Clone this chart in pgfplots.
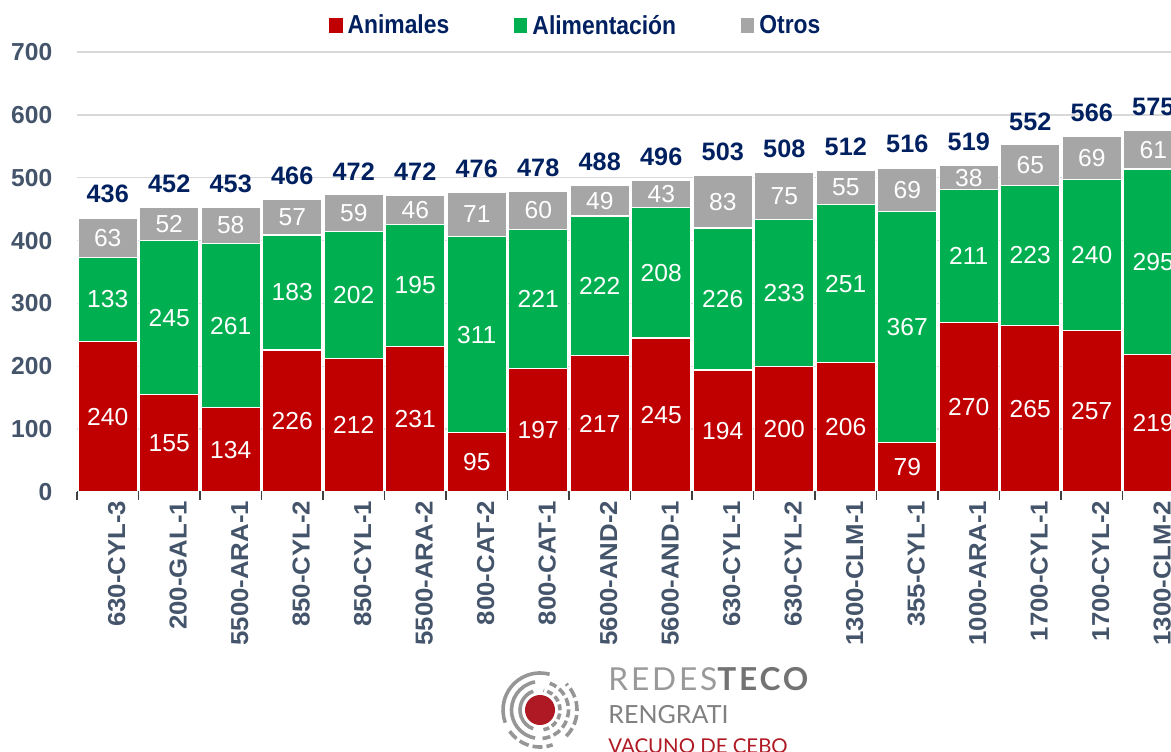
\documentclass[border=0pt]{standalone}
\usepackage{pgfplots}
\usepackage{pgfplotstable}
\usepackage{graphicx}
\pgfplotsset{compat=1.18}
\usepackage{fontspec}
\setmainfont{Liberation Sans}
\newfontfamily\lato{Lato}
\newfontfamily\latowide[LetterSpace=9]{Lato}
\definecolor{cAnim}{RGB}{192,0,0}
\definecolor{cAlim}{RGB}{0,176,80}
\definecolor{cOtros}{RGB}{166,166,166}
\definecolor{navy}{RGB}{0,32,96}
\definecolor{tickcol}{RGB}{68,84,106}
\definecolor{gridgray}{RGB}{217,217,217}
\definecolor{axiscol}{RGB}{64,64,64}
\definecolor{logogray}{RGB}{150,150,150}
\definecolor{logored}{RGB}{175,25,35}

\pgfplotstableread{
x a b c t
0 240 133 63 436
1 155 245 52 452
2 134 261 58 453
3 226 183 57 466
4 212 202 59 472
5 231 195 46 472
6 95 311 71 476
7 197 221 60 478
8 217 222 49 488
9 245 208 43 496
10 194 226 83 503
11 200 233 75 508
12 206 251 55 512
13 79 367 69 516
14 270 211 38 519
15 265 223 65 552
16 257 240 69 566
17 219 295 61 575
}\data
\pgfplotstablecreatecol[create col/expr={\thisrow{a}/2}]{ma}{\data}
\pgfplotstablecreatecol[create col/expr={\thisrow{a}+\thisrow{b}/2}]{mb}{\data}
\pgfplotstablecreatecol[create col/expr={\thisrow{a}+\thisrow{b}+\thisrow{c}/2}]{mc}{\data}

\newcommand\lbl{\fontsize{12.3}{14}\selectfont}
\newcommand\xl[1]{\scalebox{1}[0.95]{#1}}
\newcommand\lgs[1]{\scalebox{0.88}[1]{#1}}
\begin{document}
\begin{tikzpicture}
\useasboundingbox (0,0) rectangle (585.5pt,375.5pt);
\clip (0,0) rectangle (585.5pt,375.5pt);
\begin{axis}[
  at={(38.5pt,129.5pt)}, anchor=south west,
  scale only axis, width=553.5pt, height=220pt,
  ybar stacked, bar width=29.5pt,
  xmin=-0.5, xmax=17.5, ymin=0, ymax=700,
  ytick={0,100,...,700},
  ymajorgrids, grid style={color=gridgray, line width=0.7pt},
  axis x line*=bottom, axis y line*=left,
  y axis line style={draw=none},
  x axis line style={draw=axiscol, line width=0.7pt},
  ytick style={draw=none},
  xtick={-0.5,0.5,...,17.5},
  x tick label as interval,
  xticklabels={\xl{630-CYL-3},\xl{200-GAL-1},\xl{5500-ARA-1},\xl{850-CYL-2},\xl{850-CYL-1},\xl{5500-ARA-2},\xl{800-CAT-2},\xl{800-CAT-1},\xl{5600-AND-2},\xl{5600-AND-1},\xl{630-CYL-1},\xl{630-CYL-2},\xl{1300-CLM-1},\xl{355-CYL-1},\xl{1000-ARA-1},\xl{1700-CYL-1},\xl{1700-CYL-2},\xl{1300-CLM-2}},
  xtick style={draw=axiscol, line width=0.7pt},
  tick align=outside, major tick length=4.2pt,
  xticklabel style={rotate=90, anchor=east, inner sep=0pt, yshift=-4.5pt, font=\bfseries\fontsize{12.9}{15}\selectfont, text=tickcol},
  yticklabel style={font=\bfseries\lbl, text=tickcol, inner sep=0pt, xshift=-8pt},
  /pgf/number format/assume math mode=true,
  legend style={at={(0.452,1.059)}, anchor=center, draw=none, fill=none,
     legend columns=3, font=\bfseries\fontsize{13}{15}\selectfont, text=navy,
     /tikz/every even column/.append style={column sep=30pt},
     /tikz/every odd column/.append style={column sep=0pt},
     nodes={inner sep=0pt, inner xsep=2.5pt}},
]
\addplot[fill=cAnim, draw=white, line width=0.6pt,
  legend image code/.code={\fill[cAnim] (0pt,-3pt) rectangle (6pt,3.5pt);}]
  table[x=x,y=a]{\data};
\addplot[fill=cAlim, draw=white, line width=0.6pt,
  legend image code/.code={\fill[cAlim] (0pt,-3pt) rectangle (6pt,3.5pt);}]
  table[x=x,y=b]{\data};
\addplot[fill=cOtros, draw=white, line width=0.6pt,
  legend image code/.code={\fill[cOtros] (0pt,-3pt) rectangle (6pt,3.5pt);}]
  table[x=x,y=c]{\data};
\legend{\lgs{Animales},\lgs{Alimentación},\lgs{Otros}}
\end{axis}
\begin{axis}[
  at={(38.5pt,129.5pt)}, anchor=south west,
  scale only axis, width=553.5pt, height=220pt,
  xmin=-0.5, xmax=17.5, ymin=0, ymax=700,
  hide axis, clip=false,
  nodes near coords, point meta=explicit,
  /pgf/number format/assume math mode=true,
]
\addplot[draw=none, mark=none, every node near coord/.append style={anchor=center, text=white, font=\lbl}]
  table[x=x,y=ma,meta=a]{\data};
\addplot[draw=none, mark=none, every node near coord/.append style={anchor=center, text=white, font=\lbl}]
  table[x=x,y=mb,meta=b]{\data};
\addplot[draw=none, mark=none, every node near coord/.append style={anchor=center, text=white, font=\lbl}]
  table[x=x,y=mc,meta=c]{\data};
\addplot[draw=none, mark=none, every node near coord/.append style={anchor=base, inner sep=0pt, yshift=7.5pt, text=navy, font=\bfseries\fontsize{12.6}{14}\selectfont}]
  table[x=x,y=t,meta=t]{\data};
\end{axis}
% logo
\begin{scope}[shift={(270pt,20.5pt)}, line width=1.8pt, draw=logogray]
  \fill[logored] (0,0) circle (7.5pt);
  \draw[logogray] (110:10pt) arc (110:250:10pt);
  \draw[logogray, dash pattern=on 3pt off 1.6pt] (-80:10pt) arc (-80:80:10pt);
  \draw[logogray] (100:14.25pt) arc (100:260:14.25pt);
  \draw[logogray, dash pattern=on 4pt off 1.8pt] (-85:14.25pt) arc (-85:70:14.25pt);
  \draw[logogray] (75:18.5pt) arc (75:200:18.5pt);
  \draw[logogray, dash pattern=on 5pt off 2pt] (215:18.5pt) arc (215:290:18.5pt);
  \draw[logogray, dash pattern=on 5pt off 2pt] (-45:18.5pt) arc (-45:45:18.5pt);
\end{scope}
\node[anchor=base west, inner sep=0pt] at (304pt,30.5pt)
  {\latowide\fontsize{15.8}{18}\selectfont\color{black!40}REDES\textcolor{black!55}{\bfseries TECO}};
\node[anchor=base west, inner sep=0pt] at (304pt,14pt)
  {\lato\fontsize{12.5}{15}\selectfont\color{black!50}RENGRATI};
\node[anchor=base west, inner sep=0pt] at (304pt,-1pt)
  {\lato\fontsize{10.2}{12}\selectfont\color{logored}VACUNO DE CEBO};
\end{tikzpicture}
\end{document}
